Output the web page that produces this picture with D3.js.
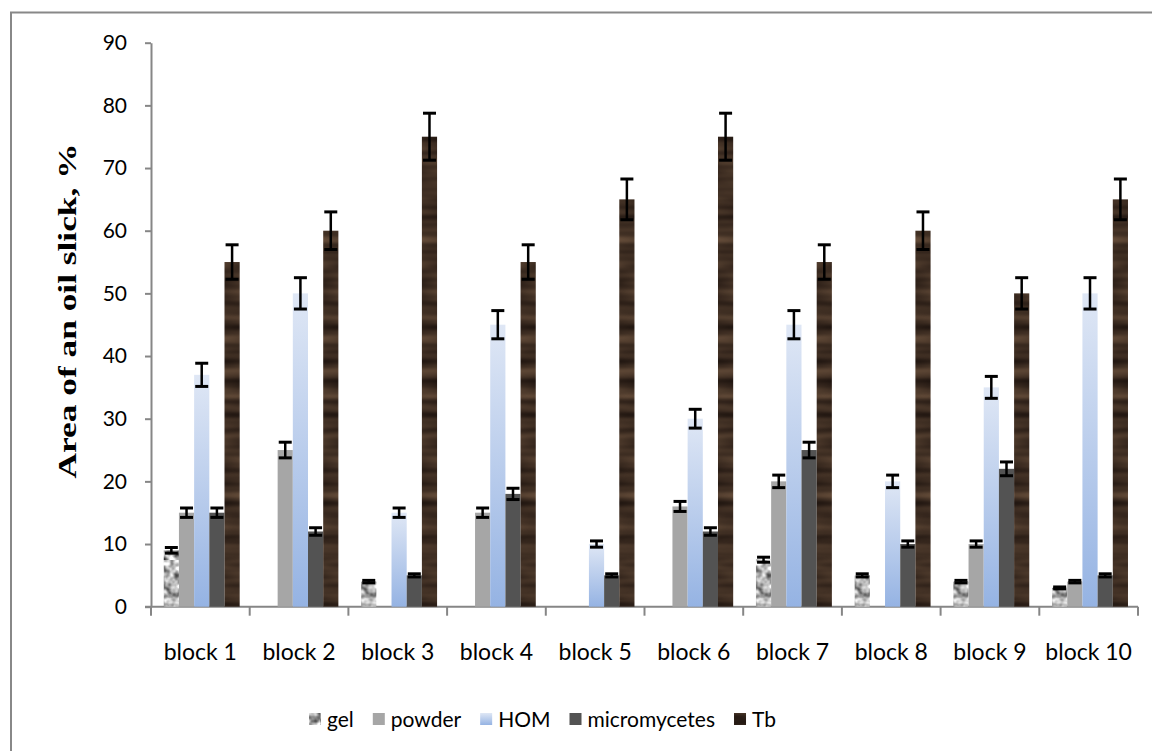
<!DOCTYPE html>
<html>
<head>
<meta charset="utf-8">
<script src="https://cdn.jsdelivr.net/npm/d3@7"></script>
<style>
  body { margin: 0; background: #fff; }
  svg { display: block; }
</style>
</head>
<body>
<div class="chart"></div>
<script>
const categories = ["block 1", "block 2", "block 3", "block 4", "block 5",
  "block 6", "block 7", "block 8", "block 9", "block 10"];
const seriesNames = ["gel", "powder", "HOM", "micromycetes", "Tb"];

const gel = [9, 0, 4, 0, 0, 0, 7.5, 5, 4, 3];
const powder = [15, 25, 0, 15, 0, 16, 20, 0, 10, 4];
const hom = [37, 50, 15, 45, 10, 30, 45, 20, 35, 50];
const micromycetes = [15, 12, 5, 18, 5, 12, 25, 10, 22, 5];
const tb = [55, 60, 75, 55, 65, 75, 55, 60, 50, 65];

const gelErr = [0.45, 0, 0.2, 0, 0, 0, 0.4, 0.25, 0.2, 0.15];
const powderErr = [0.75, 1.25, 0, 0.75, 0, 0.8, 1, 0, 0.5, 0.2];
const homErr = [1.85, 2.5, 0.75, 2.25, 0.5, 1.5, 2.25, 1, 1.75, 2.5];
const micromycetesErr = [0.75, 0.6, 0.25, 0.9, 0.25, 0.6, 1.25, 0.5, 1.1, 0.25];
const tbErr = [2.75, 3, 3.75, 2.75, 3.25, 3.75, 2.75, 3, 2.5, 3.25];

const yTicks = [0, 10, 20, 30, 40, 50, 60, 70, 80, 90];

const values = [gel, powder, hom, micromycetes, tb];
const errors = [gelErr, powderErr, homErr, micromycetesErr, tbErr];
const fills = ["url(#gelFill)", "#a6a6a6", "url(#homGrad)", "#535353", "url(#woodFill)"];

const width = 1152, height = 751;
const font = "Lato, 'Open Sans', sans-serif";

const svg = d3.select(".chart").append("svg")
  .attr("width", width).attr("height", height);

const defs = svg.append("defs");

// light-blue gradient for HOM
const grad = defs.append("linearGradient").attr("id", "homGrad")
  .attr("x1", 0).attr("y1", 0).attr("x2", 0).attr("y2", 1);
grad.append("stop").attr("offset", "0%").attr("stop-color", "#dfe7f5");
grad.append("stop").attr("offset", "100%").attr("stop-color", "#95b3e3");

// granite texture for gel
const gf = defs.append("filter").attr("id", "granite")
  .attr("x", 0).attr("y", 0).attr("width", 1).attr("height", 1)
  .attr("color-interpolation-filters", "sRGB");
gf.append("feTurbulence").attr("type", "fractalNoise")
  .attr("baseFrequency", "0.13").attr("numOctaves", 2).attr("seed", 7).attr("result", "n");
gf.append("feColorMatrix").attr("in", "n").attr("type", "matrix")
  .attr("values", "1.6 0 0 0 -0.1  1.6 0 0 0 -0.1  1.6 0 0 0 -0.1  0 0 0 0 1")
  .attr("result", "c");
gf.append("feComposite").attr("in", "c").attr("in2", "SourceGraphic").attr("operator", "in");

const gp = defs.append("pattern").attr("id", "gelFill")
  .attr("patternUnits", "userSpaceOnUse").attr("width", 80).attr("height", 80);
gp.append("rect").attr("width", 80).attr("height", 80).attr("fill", "#ccc")
  .attr("filter", "url(#granite)");

// wood texture for Tb
const wf = defs.append("filter").attr("id", "wood")
  .attr("x", 0).attr("y", 0).attr("width", 1).attr("height", 1)
  .attr("color-interpolation-filters", "sRGB");
wf.append("feTurbulence").attr("type", "fractalNoise")
  .attr("baseFrequency", "0.012 0.09").attr("numOctaves", 2).attr("seed", 3).attr("result", "n");
wf.append("feColorMatrix").attr("in", "n").attr("type", "matrix")
  .attr("values", "0.45 0 0 0 0.02  0.36 0 0 0 0.0  0.27 0 0 0 0.0  0 0 0 0 1")
  .attr("result", "c");
wf.append("feComposite").attr("in", "c").attr("in2", "SourceGraphic").attr("operator", "in");

const wp = defs.append("pattern").attr("id", "woodFill")
  .attr("patternUnits", "userSpaceOnUse").attr("width", 200).attr("height", 600);
wp.append("rect").attr("width", 200).attr("height", 600).attr("fill", "#3a2a1e")
  .attr("filter", "url(#wood)");

// outer frame
svg.append("rect")
  .attr("x", 11).attr("y", 12.5).attr("width", 1300).attr("height", 900)
  .attr("fill", "none").attr("stroke", "#888").attr("stroke-width", 2);

const x0 = d3.scaleBand().domain(categories).range([151, 1138]);
const x1 = d3.scaleBand().domain(seriesNames).range([0, x0.bandwidth()])
  .paddingOuter(0.75).align(0.56);
const y = d3.scaleLinear().domain([0, 90]).range([606.7, 42.7]);

const axisColor = "#868686";

// y axis
const yAxis = svg.append("g")
  .attr("transform", "translate(151,0)")
  .call(d3.axisLeft(y).tickValues(yTicks).tickSize(6).tickSizeOuter(0).tickPadding(18));
yAxis.select(".domain").attr("stroke", axisColor).attr("stroke-width", 2);
yAxis.selectAll(".tick line").attr("stroke", axisColor).attr("stroke-width", 2);
yAxis.selectAll(".tick text").attr("font-family", font).attr("font-size", 21).attr("fill", "#000");

// x axis
svg.append("line")
  .attr("x1", 145).attr("x2", x0.range()[1])
  .attr("y1", y(0)).attr("y2", y(0))
  .attr("stroke", axisColor).attr("stroke-width", 2);
const bounds = categories.map((c) => x0(c)).concat([x0.range()[1]]);
svg.selectAll(".xtick").data(bounds).enter().append("line")
  .attr("x1", (d) => d).attr("x2", (d) => d)
  .attr("y1", y(0)).attr("y2", y(0) + 9)
  .attr("stroke", axisColor).attr("stroke-width", 2);
svg.selectAll(".xlabel").data(categories).enter().append("text")
  .attr("x", (d) => x0(d) + x0.bandwidth() / 2)
  .attr("y", 660)
  .attr("text-anchor", "middle")
  .attr("font-family", font).attr("font-size", 23)
  .text((d) => d);

// y title (glyphs stretched along the text, as in the original)
svg.append("text")
  .attr("transform", "translate(76,311) rotate(-90) scale(1.36,1)")
  .attr("text-anchor", "middle")
  .attr("font-family", "'Liberation Serif', 'Times New Roman', serif")
  .attr("font-weight", "bold").attr("font-size", 26)
  .text("Area of an oil slick, %");

// bars
const groups = svg.selectAll(".group").data(categories).enter().append("g")
  .attr("transform", (d) => `translate(${x0(d)},0)`);

seriesNames.forEach((s, si) => {
  groups.each(function (d, i) {
    const v = values[si][i];
    if (v <= 0) return;
    d3.select(this).append("rect")
      .attr("x", x1(s))
      .attr("width", x1.bandwidth())
      .attr("y", y(v))
      .attr("height", y(0) - y(v))
      .attr("fill", fills[si]);
  });
});

// error bars
seriesNames.forEach((s, si) => {
  const cx = x1(s) + x1.bandwidth() / 2;
  groups.each(function (d, i) {
    const v = values[si][i], e = errors[si][i];
    if (v <= 0) return;
    const g = d3.select(this).append("g").attr("stroke", "#000");
    g.append("line").attr("x1", cx).attr("x2", cx)
      .attr("y1", y(v + e)).attr("y2", y(v - e)).attr("stroke-width", 2.5);
    [v + e, v - e].forEach((t) => {
      g.append("line").attr("x1", cx - 6.5).attr("x2", cx + 6.5)
        .attr("y1", y(t)).attr("y2", y(t)).attr("stroke-width", 3);
    });
  });
});

// legend
const legend = svg.append("g").attr("transform", "translate(0,727)");
let cursor = 327;
seriesNames.forEach((s, si) => {
  const item = legend.append("g");
  item.append("rect").attr("x", cursor - 18).attr("y", -14).attr("width", 12).attr("height", 12)
    .attr("fill", fills[si]);
  const t = item.append("text").attr("x", cursor).attr("y", 0)
    .attr("font-family", font).attr("font-size", 21).text(s);
  cursor += t.node().getComputedTextLength() + 37;
});
</script>
</body>
</html>
